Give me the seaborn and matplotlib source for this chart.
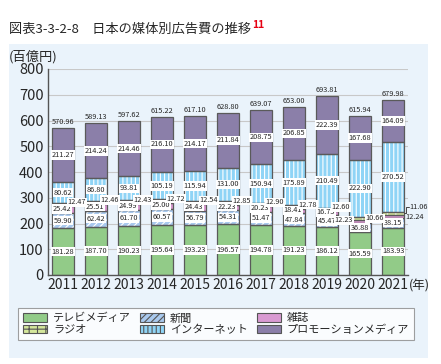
import matplotlib
matplotlib.use("Agg")
import matplotlib.pyplot as plt
import matplotlib.patches as mpatches
import seaborn as sns
import pandas as pd
import numpy as np

years = ["2011", "2012", "2013", "2014", "2015", "2016", "2017", "2018", "2019", "2020", "2021"]
tv = [181.28, 187.70, 190.23, 195.64, 193.23, 196.57, 194.78, 191.23, 186.12, 165.59, 183.93]
newspaper = [59.90, 62.42, 61.70, 60.57, 56.79, 54.31, 51.47, 47.84, 45.47, 36.88, 38.15]
magazine = [25.42, 25.51, 24.99, 25.00, 24.43, 22.23, 20.23, 18.41, 16.75, 12.23, 12.24]
radio = [12.47, 12.46, 12.43, 12.72, 12.54, 12.85, 12.90, 12.78, 12.60, 10.66, 11.06]
internet = [80.62, 86.80, 93.81, 105.19, 115.94, 131.00, 150.94, 175.89, 210.49, 222.90, 270.52]
promotion = [211.27, 214.24, 214.46, 216.10, 214.17, 211.84, 208.75, 206.85, 222.39, 167.68, 164.09]
totals = [570.96, 589.13, 597.62, 615.22, 617.10, 628.80, 639.07, 653.00, 693.81, 615.94, 679.98]

series_names = ["テレビメディア", "新聞", "雑誌", "ラジオ", "インターネット", "プロモーションメディア"]
series_vals = [tv, newspaper, magazine, radio, internet, promotion]
colors = ["#92cb88", "#a9c9ee", "#d99ad2", "#d4e79b", "#8fd4f6", "#8b7fa9"]
hatches = [None, "/////", None, "++", "||||", None]

sns.set_theme(style="white")
plt.rcParams["font.family"] = ["Noto Sans CJK JP", "DejaVu Sans"]
plt.rcParams["hatch.linewidth"] = 0.8

fig = plt.figure(figsize=(4.41, 3.64), dpi=100)
fig.patches.append(mpatches.Rectangle((9/441, 1-358/364), (428-9)/441, (358-44)/364,
                                      transform=fig.transFigure, facecolor="#eaf3fb",
                                      edgecolor="none", zorder=-10))
ax = fig.add_axes([48/441, 1-275/364, (408-48)/441, (275-69)/364])
ax.set_facecolor("none")

df = pd.DataFrame({"year": years})
bottom = np.zeros(len(years))
bottoms = []
for name, vals, col, h in zip(series_names, series_vals, colors, hatches):
    df["v"] = vals
    bottoms.append(bottom.copy())
    sns.barplot(data=df, x="year", y="v", bottom=bottom, color=col, hatch=h,
                edgecolor="white", linewidth=0, width=0.67, saturation=1,
                ax=ax, zorder=2)
    sns.barplot(data=df, x="year", y="v", bottom=bottom, fill=False, color="#5a5a5a",
                linewidth=0.9, width=0.67, ax=ax, zorder=3)
    bottom = bottom + np.array(vals)

box = dict(boxstyle="square,pad=0.1", facecolor="white", edgecolor="none")
fs = 5.3
x = np.arange(len(years))
for i in range(len(years)):
    for k in [0, 1, 4, 5]:
        v = series_vals[k][i]
        ax.text(i, bottoms[k][i] + v / 2, f"{v:.2f}", ha="center", va="center",
                fontsize=fs, bbox=box, zorder=5)
    mv = magazine[i]
    rv = radio[i]
    if i < 9:
        ax.text(i - 0.04, bottoms[2][i] + mv / 2 + 3, f"{mv:.2f}", ha="center", va="center",
                fontsize=fs, bbox=box, zorder=5)
        ax.text(i + 0.42, bottoms[3][i] + rv / 2 + 9, f"{rv:.2f}", ha="center", va="center",
                fontsize=fs, bbox=box, zorder=6)
    elif i == 9:
        ax.text(i - 0.5, bottoms[2][i] + mv / 2 + 4, f"{mv:.2f}", ha="center", va="center",
                fontsize=fs, bbox=box, zorder=6)
        ax.text(i + 0.45, bottoms[3][i] + rv / 2, f"{rv:.2f}", ha="center", va="center",
                fontsize=fs, bbox=box, zorder=6)
    else:
        yr = bottoms[3][i] + rv / 2
        ax.plot([i + 0.34, i + 0.4, i + 0.4, i + 0.48], [yr, yr, yr + 24, yr + 24],
                color="#444444", lw=0.7, zorder=6, clip_on=False)
        ax.text(i + 0.49, yr + 24, f"{rv:.2f}", ha="left", va="center",
                fontsize=fs, zorder=6)
        ax.text(i + 0.37, bottoms[2][i] + mv / 2 - 2, f"{mv:.2f}", ha="left", va="center",
                fontsize=fs, zorder=6)
    ax.text(i, totals[i] + 8, f"{totals[i]:.2f}", ha="center", va="bottom", fontsize=fs, zorder=5)

ax.set_ylim(0, 800)
ax.set_xlim(-0.45, 10.45)
ax.set_yticks(range(0, 801, 100))
ax.yaxis.grid(True, color="#c8c8c8", lw=0.8, zorder=0)
ax.set_axisbelow(True)
ax.set_xlabel("")
ax.set_ylabel("")
ax.set_xticks(x)
ax.set_xticklabels(years, fontsize=10)
ax.text(10.47, -0.02, "(年)", transform=ax.get_xaxis_transform(), fontsize=9,
        ha="left", va="top")
ax.tick_params(axis="y", labelsize=10.5, length=0, pad=3)
ax.tick_params(axis="x", length=0, pad=2)
ax.set_xticks(np.arange(0.5, 10.5, 1), minor=True)
ax.tick_params(axis="x", which="minor", direction="in", length=3, color="#555555", width=0.8)
for s in ["top", "right"]:
    ax.spines[s].set_visible(False)
for s in ["left", "bottom"]:
    ax.spines[s].set_color("#555555")
    ax.spines[s].set_linewidth(1.0)

fig.text(9/441, 1-29/364, "図表3-3-2-8　日本の媒体別広告費の推移", fontsize=9.5, va="center", ha="left")
fig.text(252/441, 1-25/364, "11", fontsize=7.5, color="#e60012", fontweight="bold", va="center", ha="left")
fig.text(9/441, 1-57/364, "(百億円)", fontsize=9.5, va="center", ha="left")

handles = []
order = [0, 3, 1, 4, 2, 5]
for k in order:
    handles.append(mpatches.Patch(facecolor=colors[k], hatch=hatches[k], edgecolor="#555555",
                                  linewidth=0.8, label=series_names[k]))
leg = fig.legend(handles=handles, ncol=3, loc="upper left",
                 bbox_to_anchor=(18/441, 1-308/364, 396/441, 0), mode="expand",
                 fontsize=8, frameon=True, fancybox=False, edgecolor="#888888",
                 handlelength=2.2, handleheight=0.8, columnspacing=0.6, handletextpad=0.5,
                 labelspacing=0.1, borderpad=0.45, borderaxespad=0)
leg.get_frame().set_linewidth(0.8)

fig.savefig("out.png", dpi=100)
